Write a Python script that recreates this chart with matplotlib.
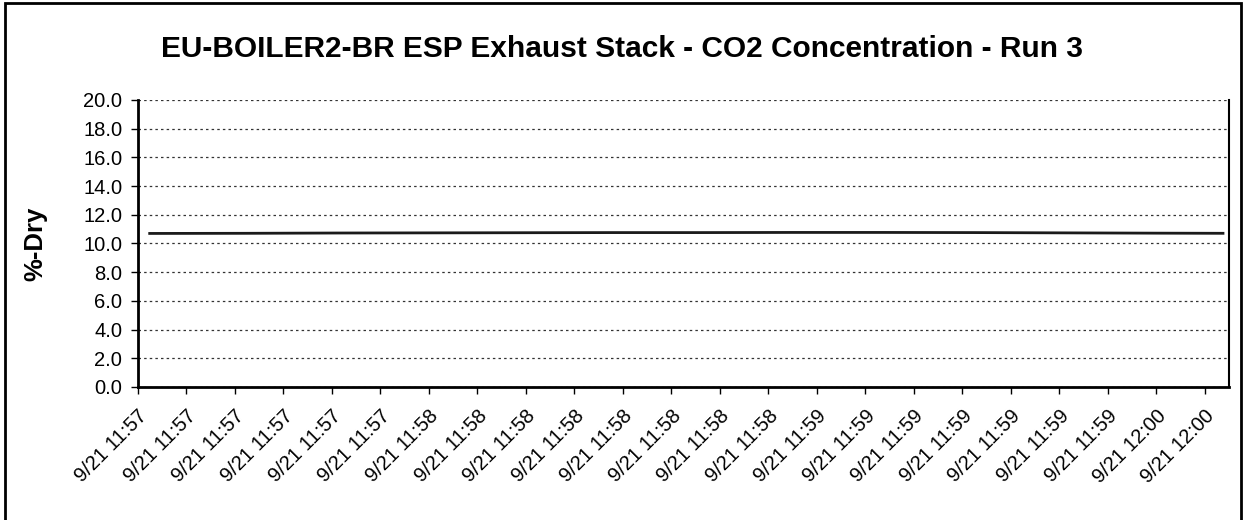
import numpy as np
import matplotlib
matplotlib.use("Agg")
import matplotlib.pyplot as plt
from matplotlib.patches import Rectangle

plt.rcParams['font.family'] = ['Liberation Sans', 'DejaVu Sans']

# CO2 readings (%-dry), times on 9/21
sample_times = ['11:57:14', '11:57:30', '11:57:45', '11:58:00', '11:58:15', '11:58:30',
                '11:58:45', '11:59:00', '11:59:15', '11:59:30', '11:59:45', '12:00:00',
                '12:00:11']
co2 = [10.70, 10.71, 10.73, 10.74, 10.75, 10.76, 10.76, 10.77, 10.77, 10.76, 10.74,
       10.72, 10.71]

# category labels shown on the axis
tick_times = ['11:57:12', '11:57:20', '11:57:28', '11:57:36', '11:57:44', '11:57:52',
              '11:58:00', '11:58:08', '11:58:16', '11:58:24', '11:58:32', '11:58:40',
              '11:58:48', '11:58:56', '11:59:04', '11:59:12', '11:59:20', '11:59:28',
              '11:59:36', '11:59:44', '11:59:52', '12:00:00', '12:00:08']
tick_labels = ['9/21 11:57'] * 6 + ['9/21 11:58'] * 8 + ['9/21 11:59'] * 7 + ['9/21 12:00'] * 2


def secs(t):
    h, m, s = [int(v) for v in t.split(':')]
    return (h - 11) * 3600 + (m - 57) * 60 + s


x = [secs(t) for t in sample_times]
xt = [secs(t) for t in tick_times]

fig = plt.figure(figsize=(12.46, 5.2), dpi=100)
ax = fig.add_axes([0.1104, 0.2558, 0.8760, 0.5519])

ax.plot(x, co2, color='#1a1a1a', lw=2.0)

ax.set_ylim(0, 20)
ax.set_yticks(np.arange(0, 20.1, 2))
ax.set_yticklabels(['%.1f' % v for v in np.arange(0, 20.1, 2)])
ax.set_xlim(xt[0], xt[0] + 8 * 22.5)
ax.set_xticks(xt)
ax.set_xticklabels(tick_labels, rotation=45, ha='right', va='top',
                   rotation_mode='anchor', fontsize=14.5)
ax.tick_params(axis='y', labelsize=14.5, length=5, width=1, pad=6)
ax.tick_params(axis='x', length=5, width=1, pad=9)

ax.grid(axis='y', linestyle=(0, (2, 2.5)), color='#333333', lw=0.9)
ax.set_axisbelow(True)
ax.spines['top'].set_visible(False)
ax.spines['left'].set_linewidth(2)
ax.spines['bottom'].set_linewidth(2)
ax.spines['right'].set_linewidth(1.5)

ax.set_ylabel('%-Dry', fontsize=18.5, fontweight='bold', labelpad=26)
fig.text(0.499, 0.906, 'EU-BOILER2-BR ESP Exhaust Stack - CO2 Concentration - Run 3',
         ha='center', va='center', fontsize=21.5, fontweight='bold')

# outer frame of the scanned chart
fig.patches.append(Rectangle((5 / 1246, -0.05), 1236 / 1246, 1.044,
                             transform=fig.transFigure, fill=False,
                             edgecolor='black', lw=2))

fig.savefig('out.png', dpi=100)
